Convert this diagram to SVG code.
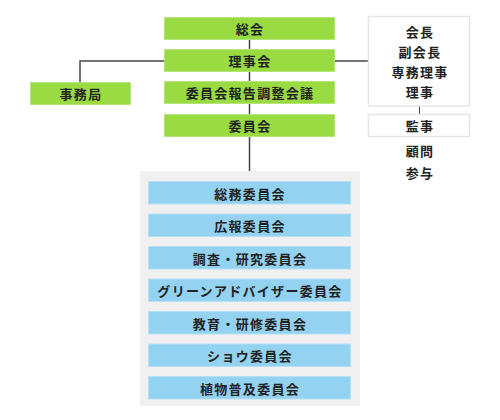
<svg xmlns="http://www.w3.org/2000/svg" width="500" height="420" viewBox="0 0 500 420">
<style>
.g{fill:#99db41;stroke:#b4e57a;stroke-width:1}
.b{fill:#93d2f0;stroke:#b5e0f5;stroke-width:1}
.w{fill:#ffffff;stroke:#e6e6e6;stroke-width:1.5}
.t{font-family:"Noto Sans CJK JP","Noto Sans CJK SC",sans-serif;font-size:13px;font-weight:bold;fill:#222;text-anchor:middle;dominant-baseline:central;letter-spacing:1.3px}
.c{stroke:#444;stroke-width:1.5;fill:none}
</style>
<rect width="500" height="420" fill="#fff"/>
<g id="connectors">
<path class="c" d="M249.5 39 V171"/>
<path class="c" d="M164 61 H80 V82"/>
<path class="c" d="M335 61 H368"/>
<path class="c" d="M419.5 106 V114" style="stroke-width:1"/>
</g>
<g id="committee-panel"><rect x="140" y="171" width="220" height="235" fill="#f0f0f0"/></g>
<g id="soukai"><rect class="g" x="164.5" y="17.5" width="170" height="22"/><text class="t" x="250" y="28.5">総会</text></g>
<g id="rijikai"><rect class="g" x="164.5" y="49.5" width="170" height="22"/><text class="t" x="250" y="60.5">理事会</text></g>
<g id="houkoku"><rect class="g" x="164.5" y="81.5" width="170" height="22"/><text class="t" x="250" y="92.5">委員会報告調整会議</text></g>
<g id="iinkai"><rect class="g" x="164.5" y="114.5" width="170" height="22"/><text class="t" x="250" y="125.5">委員会</text></g>
<g id="jimukyoku"><rect class="g" x="30.5" y="82.5" width="100" height="22"/><text class="t" x="81" y="93.5">事務局</text></g>
<g id="officers"><rect class="w" x="368.5" y="16.5" width="101" height="89.5"/>
<text class="t" x="420" y="31">会長</text>
<text class="t" x="420" y="51">副会長</text>
<text class="t" x="420" y="71">専務理事</text>
<text class="t" x="420" y="91">理事</text></g>
<g id="kanji"><rect class="w" x="368.5" y="114.5" width="101" height="22"/><text class="t" x="420" y="125.5">監事</text></g>
<g id="komon"><text class="t" x="420" y="150">顧問</text></g>
<g id="sanyo"><text class="t" x="420" y="172">参与</text></g>
<g id="c1"><rect class="b" x="148.5" y="181.5" width="202" height="22.5"/><text class="t" x="250" y="193">総務委員会</text></g>
<g id="c2"><rect class="b" x="148.5" y="214" width="202" height="22.5"/><text class="t" x="250" y="225.5">広報委員会</text></g>
<g id="c3"><rect class="b" x="148.5" y="246.5" width="202" height="22.5"/><text class="t" x="250" y="258">調査・研究委員会</text></g>
<g id="c4"><rect class="b" x="148.5" y="279" width="202" height="22.5"/><text class="t" x="250" y="290.5">グリーンアドバイザー委員会</text></g>
<g id="c5"><rect class="b" x="148.5" y="311.5" width="202" height="22.5"/><text class="t" x="250" y="323">教育・研修委員会</text></g>
<g id="c6"><rect class="b" x="148.5" y="344" width="202" height="22.5"/><text class="t" x="250" y="355.5">ショウ委員会</text></g>
<g id="c7"><rect class="b" x="148.5" y="376.5" width="202" height="22.5"/><text class="t" x="250" y="388">植物普及委員会</text></g>
</svg>
